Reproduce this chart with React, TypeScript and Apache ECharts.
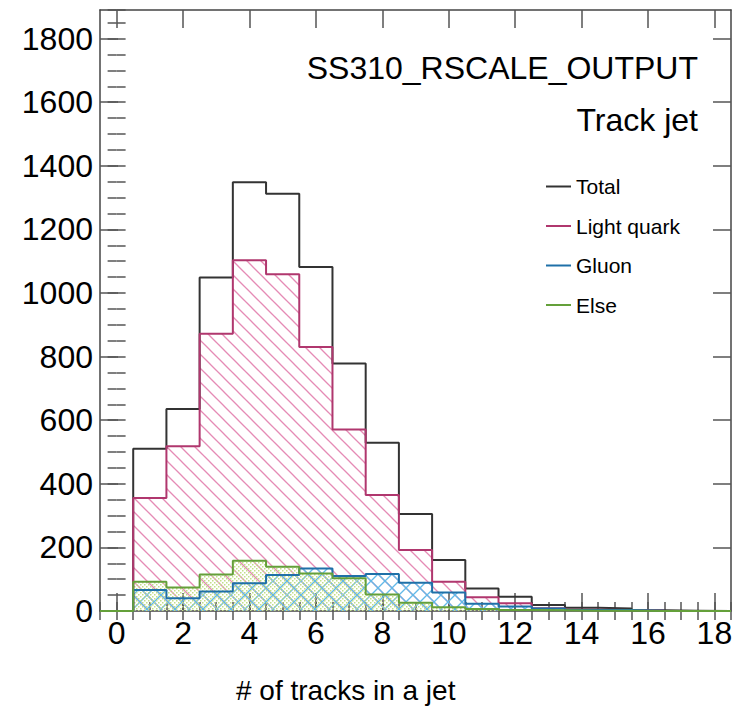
import React, { useEffect, useRef } from "react";
import * as echarts from "echarts";

// Bin centres 0..18 (bin width 1)
const binCenters = [0, 1, 2, 3, 4, 5, 6, 7, 8, 9, 10, 11, 12, 13, 14, 15, 16, 17, 18];
const totalCounts = [0, 510, 635, 1049, 1348, 1312, 1082, 778, 529, 305, 160, 71, 45, 19, 10, 8, 2, 1, 0];
const lightQuarkCounts = [0, 355, 518, 872, 1103, 1059, 830, 571, 365, 192, 92, 43, 24, 9, 4, 3, 1, 0, 0];
const gluonCounts = [0, 66, 40, 61, 87, 113, 134, 110, 116, 89, 58, 23, 14, 8, 3, 3, 1, 0, 0];
const elseCounts = [0, 92, 74, 115, 158, 139, 118, 103, 52, 26, 12, 6, 3, 2, 1, 1, 0, 0, 0];

const xMajorTicks = [0, 2, 4, 6, 8, 10, 12, 14, 16, 18];
const yMajorTicks = [0, 200, 400, 600, 800, 1000, 1200, 1400, 1600, 1800];

const FONT = "'Liberation Sans', Arial, Helvetica, sans-serif";

function histPoints(values: number[]) {
  const pts: number[][] = [];
  values.forEach((v, i) => {
    const c = binCenters[i];
    pts.push([c - 0.5, v]);
    pts.push([c + 0.5, v]);
  });
  return pts;
}

function hatchPattern(color: string, kinds: string[], size: number, lw: number) {
  const c = document.createElement("canvas");
  c.width = size;
  c.height = size;
  const ctx = c.getContext("2d")!;
  ctx.strokeStyle = color;
  ctx.lineWidth = lw;
  for (const k of kinds) {
    for (const off of [-size, 0, size]) {
      ctx.beginPath();
      if (k === "\\") {
        ctx.moveTo(off - 1, -1);
        ctx.lineTo(off + size + 1, size + 1);
      } else {
        ctx.moveTo(off - 1, size + 1);
        ctx.lineTo(off + size + 1, -1);
      }
      ctx.stroke();
    }
  }
  return { image: c.toDataURL(), repeat: "repeat", imageWidth: size, imageHeight: size };
}

function dotPattern(color: string, size: number) {
  const c = document.createElement("canvas");
  c.width = size;
  c.height = size;
  const ctx = c.getContext("2d")!;
  ctx.fillStyle = color;
  ctx.fillRect(0, 0, 1.5, 1.5);
  ctx.fillRect(size / 2, size / 2, 1.5, 1.5);
  return { image: c.toDataURL(), repeat: "repeat", imageWidth: size, imageHeight: size };
}

export default function App() {
  const ref = useRef<HTMLDivElement>(null);
  useEffect(() => {
    if (!ref.current) return;
    const chart = echarts.init(ref.current, undefined, { renderer: "svg" });

    const frameColor = "#444";
    const tickColor = "#555";
    const xRange = { min: -0.5, max: 18.5 };
    const yRange = { min: 0, max: 1890 };

    const xMajor = (position: string, withLabels: boolean, withLine: boolean) => ({
      type: "value",
      position,
      ...xRange,
      axisLine: { show: withLine, onZero: false, lineStyle: { color: frameColor, width: 1.5 } },
      axisTick: { show: true, inside: true, length: 18, customValues: xMajorTicks, lineStyle: { color: tickColor, width: 1.5 } },
      axisLabel: withLabels
        ? { show: true, customValues: xMajorTicks, fontSize: 32, fontFamily: FONT, color: "#000", margin: 6, formatter: (v: number) => String(v) }
        : { show: false },
      splitLine: { show: false },
    });
    const xMinor = (position: string) => ({
      type: "value",
      position,
      ...xRange,
      interval: 0.5,
      axisLine: { show: false },
      axisTick: { show: true, inside: true, length: 9, lineStyle: { color: tickColor, width: 1.5 } },
      axisLabel: { show: false },
      splitLine: { show: false },
    });
    const yMajor = (position: string, withLabels: boolean) => ({
      type: "value",
      position,
      ...yRange,
      interval: 200,
      axisLine: { show: true, onZero: false, lineStyle: { color: frameColor, width: 1.5 } },
      axisTick: { show: true, inside: true, length: 18, customValues: yMajorTicks, lineStyle: { color: tickColor, width: 1.5 } },
      axisLabel: withLabels
        ? { show: true, customValues: yMajorTicks, fontSize: 32, fontFamily: FONT, color: "#000", margin: 7, formatter: (v: number) => String(v) }
        : { show: false },
      splitLine: { show: false },
    });
    const yMinor = (position: string) => ({
      type: "value",
      position,
      ...yRange,
      interval: 50,
      axisLine: { show: false },
      axisTick: { show: true, inside: true, length: 9, lineStyle: { color: tickColor, width: 1.5 } },
      axisLabel: { show: false },
      splitLine: { show: false },
    });

    const mkSeries = (name: string, data: number[], color: string, area: any) => ({
      name,
      type: "line",
      data: histPoints(data),
      xAxisIndex: 0,
      yAxisIndex: 0,
      symbol: "none",
      showSymbol: false,
      color,
      lineStyle: { color, width: 2 },
      itemStyle: { color },
      areaStyle: area ? { color: area, opacity: 1 } : undefined,
      z: 3,
    });

    chart.setOption({
      animation: false,
      backgroundColor: "#fff",
      grid: { left: 100, right: 5, top: 10, bottom: 105, containLabel: false },
      xAxis: [xMajor("bottom", true, true), xMinor("bottom"), xMajor("top", false, true), xMinor("top")],
      yAxis: [yMajor("left", true), yMinor("left"), yMajor("right", false), yMinor("right")],
      legend: {
        orient: "vertical",
        left: 541,
        top: 171,
        icon: "rect",
        itemWidth: 25,
        itemHeight: 2,
        itemGap: 18.5,
        textStyle: { fontSize: 21, fontFamily: FONT, color: "#000", lineHeight: 20 },
        data: ["Total", "Light quark", "Gluon", "Else"],
      },
      graphic: [
        {
          type: "text",
          right: 38,
          top: 52,
          style: { text: "SS310_RSCALE_OUTPUT", fontSize: 32, fontFamily: FONT, fill: "#000" },
        },
        {
          type: "text",
          right: 38,
          top: 104,
          style: { text: "Track jet", fontSize: 32, fontFamily: FONT, fill: "#000" },
        },
        {
          type: "text",
          left: 236,
          top: 676,
          style: { text: "# of tracks in a jet", fontSize: 28, fontFamily: FONT, fill: "#000" },
        },
      ],
      series: [
        mkSeries("Total", totalCounts, "#333333", null),
        mkSeries("Light quark", lightQuarkCounts, "#b0376e", hatchPattern("#e58bb5", ["\\"], 14, 1.3)),
        mkSeries("Gluon", gluonCounts, "#1f70a8", hatchPattern("#62b9e8", ["\\", "/"], 14, 1.3)),
        mkSeries("Else", elseCounts, "#64a03a", dotPattern("#c2de88", 4)),
      ],
    });
    return () => chart.dispose();
  }, []);
  return <div ref={ref} style={{ width: 736, height: 716, position: "absolute", left: 0, top: 0 }} />;
}
